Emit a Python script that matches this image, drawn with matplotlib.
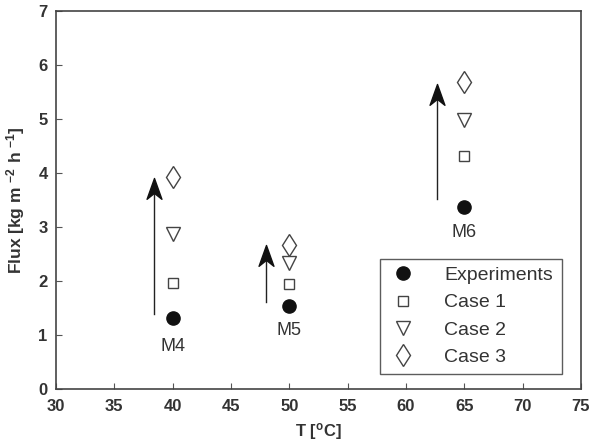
import matplotlib
matplotlib.use('Agg')
import matplotlib.pyplot as plt
from matplotlib.path import Path

plt.rcParams['font.family'] = ['Liberation Sans', 'DejaVu Sans']

# data
temps = [40, 50, 65]
experiments = [1.31, 1.54, 3.37]
case1 = [1.96, 1.94, 4.31]
case2 = [2.87, 2.33, 4.98]
case3 = [3.93, 2.67, 5.68]
run_names = ['M4', 'M5', 'M6']
name_y = [0.78, 1.09, 2.89]

# arrows: x, start, end
arrow_x = [38.4, 48.0, 62.65]
arrow_from = [1.39, 1.61, 3.52]
arrow_to = [3.9, 2.67, 5.65]

txt = '#333333'
edge = '#444444'

# stealth-like arrow head, tip at origin
head = Path([(0, 0), (-0.5, -1.4), (0, -1.0), (0.5, -1.4), (0, 0)],
            [Path.MOVETO, Path.LINETO, Path.LINETO, Path.LINETO, Path.CLOSEPOLY])

fig = plt.figure(figsize=(5.94, 4.46), dpi=100)
ax = fig.add_axes([56/594, 1 - 389/446, 525/594, 378/446])

ax.plot(temps, experiments, 'o', ms=9.5, color='#111111', mec='#111111', ls='none', label='Experiments')
ax.plot(temps, case1, 's', ms=7.5, mfc='white', mec=edge, mew=1.0, ls='none', label='Case 1')
ax.plot(temps, case2, 'v', ms=10.5, mfc='white', mec=edge, mew=1.0, ls='none', label='Case 2')
ax.plot(temps, case3, 'd', ms=11.5, mfc='white', mec=edge, mew=1.0, ls='none', label='Case 3')

for x, y0, y1 in zip(arrow_x, arrow_from, arrow_to):
    ax.plot([x, x], [y0, y1 - 0.15], color='#222222', lw=1.0)
    ax.plot([x], [y1], marker=head, ms=30, color='#111111', ls='none')

for x, y, name in zip(temps, name_y, run_names):
    ax.text(x, y, name, ha='center', va='center', fontsize=13, color=txt)

ax.set_xlim(30, 75)
ax.set_ylim(0, 7)
ax.set_xticks(range(30, 80, 5))
ax.set_yticks(range(0, 8))
ax.tick_params(direction='in', length=4, width=0.8, colors='#555555', labelcolor=txt,
               labelsize=12, top=False, right=False)
ax.tick_params(axis='x', pad=7)
ax.tick_params(axis='y', pad=6)
for lab in ax.get_xticklabels() + ax.get_yticklabels():
    lab.set_fontweight('bold')
for s in ax.spines.values():
    s.set_color('#444444')
    s.set_linewidth(1.2)

ax.set_xlabel('T [$\\mathregular{^oC}$]', fontsize=12, fontweight='bold', color=txt, labelpad=5)
ax.set_ylabel('Flux [kg m $\\mathregular{^{-2}}$ h $\\mathregular{^{-1}}$]', fontsize=12.5, fontweight='bold',
              color=txt, labelpad=8)

leg = ax.legend(loc='lower left', bbox_to_anchor=(0.617, 0.04, 0.347, 0.322), mode='expand',
                fontsize=14, frameon=True, fancybox=False, borderpad=0.4, labelspacing=0.5,
                handlelength=1.6, handletextpad=1.3, borderaxespad=0, markerscale=1.0)
leg.get_frame().set_edgecolor('#333333')
leg.get_frame().set_linewidth(1.0)
for t in leg.get_texts():
    t.set_color(txt)

fig.savefig('out.png', dpi=100)
